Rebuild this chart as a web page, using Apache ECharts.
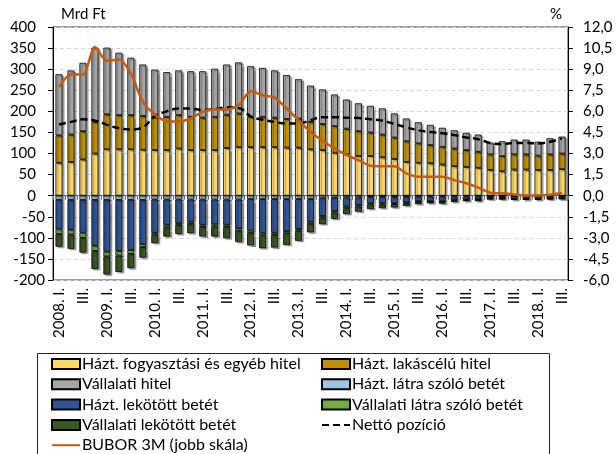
<!DOCTYPE html>
<html>
<head>
<meta charset="utf-8">
<script src="https://cdn.jsdelivr.net/npm/echarts@6.0.0/dist/echarts.min.js"></script>
<style>
  html, body { margin: 0; padding: 0; background: #fff; }
  #chart { width: 616px; height: 454px; }
</style>
</head>
<body>
<div id="chart"></div>
<script>
// Quarterly categories, 2008 Q1 – 2018 Q3
const categories = [
  '2008. I.', 'II.', 'III.', 'IV.',
  '2009. I.', 'II.', 'III.', 'IV.',
  '2010. I.', 'II.', 'III.', 'IV.',
  '2011. I.', 'II.', 'III.', 'IV.',
  '2012. I.', 'II.', 'III.', 'IV.',
  '2013. I.', 'II.', 'III.', 'IV.',
  '2014. I.', 'II.', 'III.', 'IV.',
  '2015. I.', 'II.', 'III.', 'IV.',
  '2016. I.', 'II.', 'III.', 'IV.',
  '2017. I.', 'II.', 'III.', 'IV.',
  '2018. I.', 'II.', 'III.'
];

// Loans (Mrd Ft, positive side)
const consumerLoans = [78, 80, 86, 100, 110, 110, 110, 109, 108, 108, 112, 108, 108, 108, 113, 115, 115, 115, 115, 114, 114, 110, 108, 102, 98, 94, 94, 91, 87, 80, 78, 77, 74, 70, 68, 66, 61, 58, 62, 62, 61, 61, 63];
const housingLoans = [65, 65, 67, 75, 83, 81, 81, 80, 79, 79, 79, 79, 77, 79, 79, 80, 72, 72, 70, 68, 69, 65, 62, 63, 61, 59, 56, 54, 51, 49, 46, 43, 42, 42, 40, 38, 37, 36, 36, 36, 34, 37, 37];
const corporateLoans = [145, 152, 162, 176, 158, 148, 136, 122, 112, 106, 106, 108, 110, 114, 119, 121, 120, 116, 112, 104, 93, 86, 82, 75, 69, 66, 63, 62, 57, 54, 50, 48, 45, 43, 41, 41, 28, 35, 35, 35, 33, 38, 40];

// Deposits (Mrd Ft, negative side)
const householdSight = [-10, -10, -10, -10, -10, -10, -10, -10, -9, -9, -9, -9, -9, -9, -9, -9, -8, -8, -8, -8, -8, -8, -6, -5, -4, -4, -3, -3, -3, -3, -2, -2, -2, -2, -2, -2, -1, -1, -1, -1, -1, -1, -1];
const householdTerm = [-70, -71, -78, -109, -123, -121, -119, -105, -79, -60, -56, -53, -60, -59, -60, -68, -75, -80, -80, -76, -71, -54, -42, -31, -22, -18, -15, -15, -15, -13, -11, -11, -11, -8, -7, -7, -5, -5, -6, -6, -6, -5, -5];
const corporateSight = [-11, -11, -12, -12, -11, -11, -9, -7, -4, -6, -4, -5, -5, -5, -5, -6, -5, -6, -5, -5, -4, -5, -4, -4, -4, -4, -3, -3, -2, -2, -2, -1, -2, -2, -1, -1, -1, -1, -1, -1, -1, -1, -1];
const corporateTerm = [-30, -34, -35, -43, -43, -39, -34, -25, -21, -22, -22, -22, -23, -24, -27, -27, -30, -31, -30, -28, -24, -20, -16, -15, -14, -12, -11, -9, -8, -6, -5, -4, -4, -3, -3, -3, -2, -2, -2, -2, -2, -2, -1];

// Net position (Mrd Ft) and 3-month BUBOR (%, right scale)
const netPosition = [169, 175, 181, 178, 168, 160, 157, 162, 188, 200, 207, 207, 203, 205, 209, 208, 188, 180, 175, 171, 171, 179, 186, 186, 185, 184, 181, 178, 170, 162, 155, 151, 148, 144, 138, 134, 125, 122, 125, 125, 124, 128, 136];
const bubor3m = [7.74, 8.62, 8.62, 10.58, 9.59, 9.68, 8.69, 6.67, 5.78, 5.30, 5.28, 5.49, 5.96, 6.13, 6.13, 6.44, 7.43, 7.15, 6.98, 6.20, 5.37, 4.54, 3.91, 3.36, 2.90, 2.53, 2.13, 2.10, 2.10, 1.59, 1.35, 1.35, 1.35, 1.11, 0.88, 0.57, 0.21, 0.17, 0.09, 0.02, 0.02, 0.07, 0.19];

// Axis ranges and titles
const leftAxis = { min: -200, max: 400, step: 50, title: 'Mrd Ft' };
const rightAxis = { min: -6, max: 12, step: 1.5, title: '%' };

const FONT = 'Lato';
const TEXT = '#000';

const barStyle = (color) => ({
  color: color,
  borderColor: '#000',
  borderWidth: 0.8,
  shadowColor: 'rgba(0,0,0,0.35)',
  shadowBlur: 1,
  shadowOffsetX: 2,
  shadowOffsetY: 1.5
});

const bar = (name, data, color) => ({
  name: name,
  type: 'bar',
  stack: 'total',
  data: data,
  barWidth: 7,
  itemStyle: barStyle(color),
  emphasis: { disabled: true }
});

const legendBase = {
  orient: 'vertical',
  top: 356,
  padding: 0,
  itemWidth: 28, itemHeight: 10, itemGap: 4.3,
  textStyle: { fontSize: 16, color: TEXT, fontFamily: FONT, lineHeight: 16, padding: [0, 0, 0, -3] },
  itemStyle: { shadowColor: 'transparent', shadowBlur: 0, shadowOffsetX: 0, shadowOffsetY: 0 },
  selectedMode: false
};

const lineLegendItem = (name) => ({ name: name, itemStyle: { opacity: 0 } });

const chart = echarts.init(document.getElementById('chart'), null, { renderer: 'canvas' });

chart.setOption({
  animation: false,
  textStyle: { fontFamily: FONT, color: TEXT },
  grid: {
    left: 53, right: 48, top: 27, bottom: 174,
    show: true, borderColor: '#3a3a3a', borderWidth: 1,
    outerBoundsMode: 'none'
  },
  xAxis: [
    {
      type: 'category',
      data: categories,
      position: 'bottom',
      axisLine: { show: false, onZero: false },
      axisTick: { show: false },
      axisLabel: { interval: 1, rotate: 90, fontSize: 15, margin: 8, color: TEXT, fontFamily: FONT }
    },
    {
      type: 'category',
      data: categories,
      position: 'top',
      axisLine: { show: true, onZero: true, lineStyle: { color: '#6e6e6e', width: 1 } },
      axisTick: { show: true, interval: 0, inside: true, length: 4, lineStyle: { color: '#6e6e6e' } },
      axisLabel: { show: false }
    }
  ],
  yAxis: [
    {
      type: 'value',
      min: leftAxis.min, max: leftAxis.max, interval: leftAxis.step,
      axisLine: { show: true, lineStyle: { color: '#000', width: 1 } },
      axisTick: { show: true, length: 5, lineStyle: { color: '#000' } },
      axisLabel: {
        fontSize: 15, color: TEXT, fontFamily: FONT, margin: 8,
        formatter: (v) => v < 0 ? '{n|' + v + '}' : '{p|' + v + '}',
        rich: {
          n: { fontSize: 15, fontFamily: FONT, color: TEXT },
          p: { fontSize: 15, fontFamily: FONT, color: TEXT, padding: [0, 9, 0, 0] }
        }
      },
      splitLine: { show: true, lineStyle: { color: '#d9d9d9', type: [4, 3], width: 1 } }
    },
    {
      type: 'value',
      min: rightAxis.min, max: rightAxis.max, interval: rightAxis.step,
      axisLine: { show: true, lineStyle: { color: '#000', width: 1 } },
      axisTick: { show: true, length: 5, lineStyle: { color: '#000' } },
      axisLabel: {
        fontSize: 15, color: TEXT, fontFamily: FONT, margin: 15,
        formatter: (v) => v.toFixed(1).replace('.', ',')
      },
      splitLine: { show: false }
    }
  ],
  legend: [
    Object.assign({}, legendBase, {
      left: 51,
      data: [
        { name: 'Házt. fogyasztási és egyéb hitel', icon: 'rect' },
        { name: 'Vállalati hitel', icon: 'rect' },
        { name: 'Házt. lekötött betét', icon: 'rect' },
        { name: 'Vállalati lekötött betét', icon: 'rect' },
        lineLegendItem('BUBOR 3M (jobb skála)')
      ]
    }),
    Object.assign({}, legendBase, {
      left: 321,
      data: [
        { name: 'Házt. lakáscélú hitel', icon: 'rect' },
        { name: 'Házt. látra szóló betét', icon: 'rect' },
        { name: 'Vállalati látra szóló betét', icon: 'rect' },
        lineLegendItem('Nettó pozíció')
      ]
    })
  ],
  graphic: [
    {
      type: 'rect',
      shape: { x: 37.5, y: 353.5, width: 512, height: 120 },
      style: { fill: 'none', stroke: '#262626', lineWidth: 1 },
      silent: true
    },
    {
      type: 'text', left: 61, top: 7, silent: true,
      style: { text: leftAxis.title, font: '15px Lato', fill: TEXT }
    },
    {
      type: 'text', left: 550, top: 7, silent: true,
      style: { text: rightAxis.title, font: '15px Lato', fill: TEXT }
    }
  ],
  series: [
    bar('Házt. fogyasztási és egyéb hitel', consumerLoans, '#ffd966'),
    bar('Házt. lakáscélú hitel', housingLoans, '#bf9000'),
    bar('Vállalati hitel', corporateLoans, '#a5a5a5'),
    bar('Házt. látra szóló betét', householdSight, '#9dc3e6'),
    bar('Házt. lekötött betét', householdTerm, '#2f5597'),
    bar('Vállalati látra szóló betét', corporateSight, '#70ad47'),
    bar('Vállalati lekötött betét', corporateTerm, '#385723'),
    {
      name: 'Nettó pozíció',
      type: 'line',
      data: netPosition,
      yAxisIndex: 0,
      smooth: 0.4,
      symbol: 'none',
      lineStyle: { color: '#000', width: 2.5, type: [7, 4] },
      itemStyle: { color: '#000' },
      z: 5,
      emphasis: { disabled: true }
    },
    {
      name: 'BUBOR 3M (jobb skála)',
      type: 'line',
      data: bubor3m,
      yAxisIndex: 1,
      smooth: 0.25,
      symbol: 'none',
      lineStyle: { color: '#c55a11', width: 2.5 },
      itemStyle: { color: '#c55a11' },
      z: 6,
      emphasis: { disabled: true }
    }
  ]
});
</script>
</body>
</html>
